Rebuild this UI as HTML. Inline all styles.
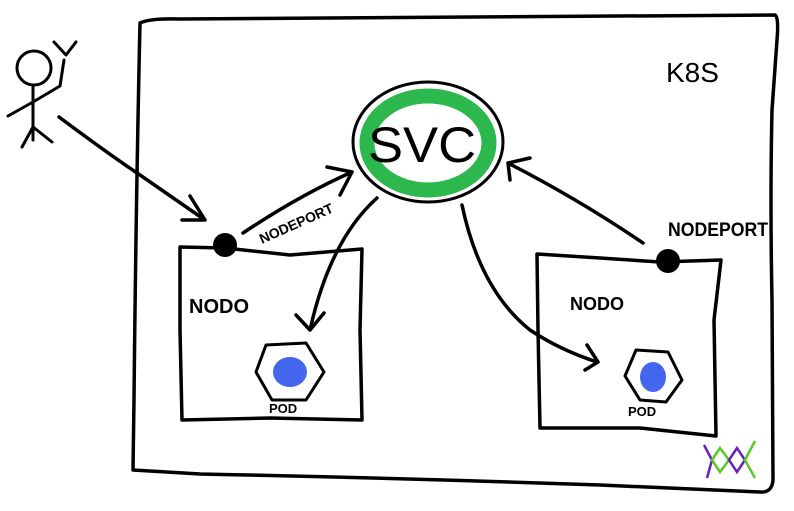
<!DOCTYPE html>
<html><head><meta charset="utf-8"><style>
html,body{margin:0;padding:0;background:#fff;width:794px;height:511px;overflow:hidden}
svg{display:block}
text{font-family:"Liberation Sans",sans-serif;fill:#000}
</style></head><body>
<svg width="794" height="511" viewBox="0 0 794 511" xmlns="http://www.w3.org/2000/svg">
<g fill="none" stroke="#000" stroke-width="3.5" stroke-linecap="round" stroke-linejoin="round">
<path d="M140 23 Q150 18 180 19 L775 15 Q779 17 777 40 L772 110 Q770 200 772 300 L773 480 Q772 493 760 492 L600 485 Q400 478 200 474 L133 470 L134 400 Q136 200 140 23"/>
<circle cx="34" cy="68" r="17" stroke-width="3"/>
<path d="M33 85 L33 140 M22 147 L33 127 L52 142 M8 116 L33 102 L60 86 L64 60 M54 42 L66 55 L76 42" stroke-width="3"/>
<path d="M59 117 Q110 155 140 175 L205 220 M190 196 L205 220 L182 220"/>
<path d="M180 247 L225 248 L290 255 L362 249 L360 330 L362 420 L270 418 L182 420 L180 330 Z"/>
<circle cx="225" cy="245" r="12" fill="#000" stroke="none"/>
<path d="M243 233 Q300 195 352 172 M327 167 L352 172 L340 195"/>
<path d="M377 198 Q330 240 310 330 M296 315 L310 330 L324 313"/>
<path d="M462 205 Q480 290 530 330 Q560 350 597 362 M587 345 L598 362 L585 370"/>
<path d="M643 243 Q580 200 508 163 M510 180 L508 163 L530 158"/>
<path d="M537 254 L600 258 L660 262 L721 260 L714 320 L716 436 L640 428 L540 428 L538 330 Z"/>
<circle cx="668" cy="261" r="12" fill="#000" stroke="none"/>
<ellipse cx="428" cy="142" rx="75" ry="60" stroke-width="3"/>
</g>
<ellipse cx="428" cy="143" rx="61" ry="47" fill="none" stroke="#2db84d" stroke-width="15"/>
<text x="368" y="162" font-size="50" textLength="108" lengthAdjust="spacingAndGlyphs">SVC</text>
<g stroke="#000" stroke-width="3" stroke-linejoin="round">
<polygon points="266,345 306,343 324,372 306,400 272,400 256,372" fill="#fff"/>
<polygon points="636,350 668,352 682,380 666,402 640,400 625,376" fill="#fff"/>
</g>
<ellipse cx="290" cy="372" rx="17" ry="15" fill="#4466ee"/>
<ellipse cx="653" cy="377" rx="13" ry="15" fill="#4466ee"/>
<text x="666" y="82" font-size="28">K8S</text>
<text x="189" y="313" font-size="20" font-weight="bold">NODO</text>
<text x="570" y="310" font-size="18" font-weight="bold">NODO</text>
<text x="269" y="413" font-size="13" font-weight="bold">POD</text>
<text x="628" y="416" font-size="13" font-weight="bold">POD</text>
<text x="668" y="236" font-size="19" font-weight="bold" textLength="100" lengthAdjust="spacingAndGlyphs">NODEPORT</text>
<text x="0" y="0" font-size="14" font-weight="bold" transform="translate(262,244) rotate(-24)">NODEPORT</text>
<g fill="none" stroke-width="2.5">
<path d="M704 445 L712 460 L707 478" stroke="#6622bb"/>
<path d="M712 460 L720 448 L729 460 L720 472 Z" stroke="#55cc22"/>
<path d="M729 460 L737 448 L745 460 L737 472 Z" stroke="#6622bb"/>
<path d="M755 441 L745 460 L755 478" stroke="#55cc22"/>
</g>
</svg>
</body></html>
